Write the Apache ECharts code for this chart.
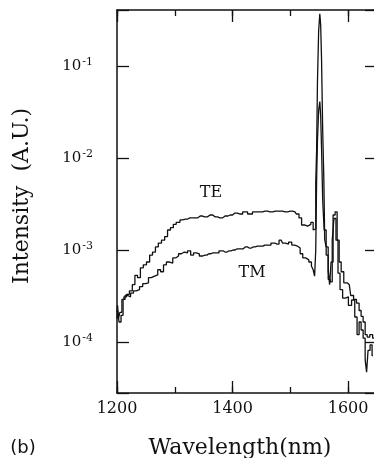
<!DOCTYPE html>
<html>
<head>
<meta charset="utf-8">
<title>TE / TM spectrum</title>
<script src="https://cdn.jsdelivr.net/npm/echarts@6/dist/echarts.min.js"></script>
<style>
html,body{margin:0;padding:0;background:#fff;}
#ECharts{width:374px;height:458px;}
</style>
</head>
<body>
<div id="ECharts"></div>
<script>
//TE 曲线：波长(nm) 和 强度(A.U.)
var teWave = [1200,1202,1203,1207,1210,1214,1219,1224,1229,1233,1238,1243,1248,1254,1259,1264,1269,1274,1280,1285,
  1290,1295,1300,1305,1313,1319,1326,1335,1344,1352,1361,1370,1378,1387,1396,1404,1413,1422,1430,1439,
  1448,1456,1465,1474,1482,1491,1500,1508,1513,1517,1522,1527,1533,1538,1541,1543,1545,1546,1548,1550,
  1552,1553,1555,1557,1559,1560,1564,1567,1569,1572,1576,1579,1583,1586,1590,1595,1602,1607,1612,1617,
  1621,1624,1628,1631,1635,1640,1645];
var teValue = [2.1e-4,2.5e-4,1.8e-4,2.1e-4,2.9e-4,3.1e-4,3.3e-4,3.6e-4,4.2e-4,5.3e-4,5.0e-4,6.4e-4,6.9e-4,7.4e-4,8.8e-4,
  9.5e-4,1.08e-3,1.19e-3,1.28e-3,1.4e-3,1.65e-3,1.75e-3,1.9e-3,2.0e-3,2.12e-3,2.17e-3,2.23e-3,2.23e-3,2.34e-3,2.29e-3,
  2.4e-3,2.29e-3,2.23e-3,2.34e-3,2.4e-3,2.52e-3,2.46e-3,2.59e-3,2.46e-3,2.59e-3,2.59e-3,2.65e-3,2.59e-3,2.65e-3,2.65e-3,
  2.59e-3,2.65e-3,2.59e-3,2.46e-3,2.23e-3,1.87e-3,1.82e-3,1.9e-3,2.0e-3,1.65e-3,1.7e-3,5.5e-3,1.22e-2,7e-2,0.24,
  0.37,0.28,0.12,2e-2,5.8e-3,1.3e-3,1.08e-3,6e-4,4.2e-4,7.4e-4,2.4e-3,2.6e-3,1.28e-3,7.4e-4,5.8e-4,
  4.4e-4,4.2e-4,3.2e-4,2.9e-4,2.65e-4,2.2e-4,1.9e-4,1.65e-4,1.2e-4,1.13e-4,1.2e-4,1.1e-4];

//TM 曲线
var tmWave = [1200,1202,1205,1209,1212,1216,1221,1226,1231,1236,1242,1247,1252,1257,1262,1268,1273,1278,1283,1288,
  1294,1299,1304,1309,1314,1319,1325,1330,1335,1340,1345,1352,1359,1366,1373,1380,1387,1394,1401,1408,
  1415,1422,1429,1436,1443,1449,1456,1463,1470,1477,1484,1489,1494,1500,1505,1510,1515,1519,1524,1529,
  1535,1538,1541,1543,1545,1546,1548,1550,1552,1553,1555,1557,1560,1564,1567,1571,1574,1577,1581,1584,
  1588,1593,1598,1603,1609,1614,1617,1621,1624,1628,1631,1633,1636,1640,1643];
var tmValue = [1.8e-4,2.2e-4,1.65e-4,1.95e-4,2.9e-4,3.2e-4,3.1e-4,3.4e-4,3.6e-4,3.7e-4,4.0e-4,4.3e-4,4.4e-4,5.0e-4,5.2e-4,
  5.35e-4,6.1e-4,5.8e-4,6.9e-4,7.4e-4,7.2e-4,8.2e-4,8.6e-4,9.1e-4,9.5e-4,9.3e-4,9.8e-4,8.8e-4,9.3e-4,9.1e-4,
  8.6e-4,8.8e-4,9.1e-4,9.3e-4,9.3e-4,9.8e-4,9.5e-4,9.8e-4,1.0e-3,1.03e-3,1.03e-3,1.08e-3,1.05e-3,1.08e-3,1.1e-3,
  1.1e-3,1.13e-3,1.13e-3,1.19e-3,1.16e-3,1.28e-3,1.19e-3,1.16e-3,1.22e-3,1.13e-3,1.1e-3,1.05e-3,9.1e-4,8.2e-4,7.8e-4,
  7.4e-4,6.7e-4,6.1e-4,5.2e-4,1.0e-3,5.8e-3,1.6e-2,3.3e-2,4.1e-2,2.9e-2,1.3e-2,3.5e-3,1.65e-3,8.8e-4,4.8e-4,
  4.5e-4,1.28e-3,2.2e-3,1.28e-3,5.6e-4,3.7e-4,3.0e-4,3.1e-4,2.5e-4,2.86e-4,1.87e-4,1.2e-4,1.65e-4,1.35e-4,1.1e-4,
  6.4e-5,4.7e-5,8.1e-5,9.3e-5,7.1e-5];

//坐标轴范围和刻度
var xMin = 1200, xMax = 1650;
var xLabelTicks = [1200, 1400, 1600];
var yMin = 2.79e-5, yMax = 0.406;
var yExponents = [-1, -2, -3, -4];

var ink = '#111';
var serif = 'DejaVu Serif';

function pairs(w, v)
{
  var out = [];
  for (var i = 0; i < w.length; i++) out.push([w[i], v[i]]);
  return out;
}

//x 轴：主刻度(长) + 次刻度(短)，上下各一套
function xAxisOf(pos, interval, len, withLabel, withLine)
{
  return {
    type: 'value', position: pos, min: xMin, max: xMax, interval: interval,
    axisLine: { show: withLine, onZero: false, lineStyle: { color: ink, width: 1.5 } },
    axisTick: { inside: true, length: len, lineStyle: { color: ink, width: 1.3 } },
    axisLabel: {
      show: withLabel, margin: 8, color: ink, fontFamily: serif, fontSize: 16,
      formatter: function (v) { return xLabelTicks.indexOf(v) >= 0 ? String(v) : ''; }
    },
    splitLine: { show: false }
  };
}

function yAxisOf(pos, withLabel)
{
  return {
    type: 'log', position: pos, min: yMin, max: yMax, logBase: 10,
    axisLine: { show: true, onZero: false, lineStyle: { color: ink, width: 1.5 } },
    axisTick: { inside: true, length: 12, lineStyle: { color: ink, width: 1.3 } },
    axisLabel: {
      show: withLabel, margin: 24, color: ink,
      formatter: function (v) {
        var e = Math.round(Math.log(v) / Math.LN10);
        if (Math.abs(Math.log(v) / Math.LN10 - e) > 1e-6 || yExponents.indexOf(e) < 0) return '';
        return '{b|10}{s|' + e + '}';
      },
      rich: {
        b: { fontFamily: serif, fontSize: 15, color: ink },
        s: { fontFamily: serif, fontSize: 11, color: ink, padding: [0, 0, 8, 1] }
      }
    },
    splitLine: { show: false }
  };
}

var myChart = echarts.init(document.getElementById('ECharts'), null, { renderer: 'canvas' });

var option = {
  backgroundColor: '#fff',
  animation: false,
  //右边框在图片外面，不让 echarts 自动收缩网格
  grid: { left: 117, width: 260, top: 10, bottom: 65, containLabel: false, outerBoundsMode: 'none' },
  xAxis: [
    xAxisOf('bottom', 200, 12, true, true),
    xAxisOf('bottom', 100, 6, false, false),
    xAxisOf('top', 200, 12, false, true),
    xAxisOf('top', 100, 6, false, false)
  ],
  yAxis: [yAxisOf('left', true), yAxisOf('right', false)],
  series: [
    {
      name: 'TE', type: 'line', step: 'middle', showSymbol: false,
      lineStyle: { color: ink, width: 1.3 },
      data: pairs(teWave, teValue)
    },
    {
      name: 'TM', type: 'line', step: 'middle', showSymbol: false,
      lineStyle: { color: ink, width: 1.3 },
      data: pairs(tmWave, tmValue)
    }
  ],
  graphic: [
    { type: 'text', x: 22, y: 196, rotation: Math.PI / 2,
      style: { text: 'Intensity  (A.U.)', font: '22px "DejaVu Serif"', fill: ink, align: 'center', verticalAlign: 'middle' } },
    { type: 'text', x: 240, y: 448,
      style: { text: 'Wavelength(nm)', font: '22px "DejaVu Serif"', fill: ink, align: 'center', verticalAlign: 'middle' } },
    { type: 'text', x: 23, y: 448,
      style: { text: '(b)', font: '18px "DejaVu Sans"', fill: ink, align: 'center', verticalAlign: 'middle' } },
    { type: 'text', x: 211, y: 193,
      style: { text: 'TE', font: '16px "DejaVu Serif"', fill: ink, align: 'center', verticalAlign: 'middle' } },
    { type: 'text', x: 252, y: 273,
      style: { text: 'TM', font: '16px "DejaVu Serif"', fill: ink, align: 'center', verticalAlign: 'middle' } }
  ]
};

myChart.setOption(option);
</script>
</body>
</html>
